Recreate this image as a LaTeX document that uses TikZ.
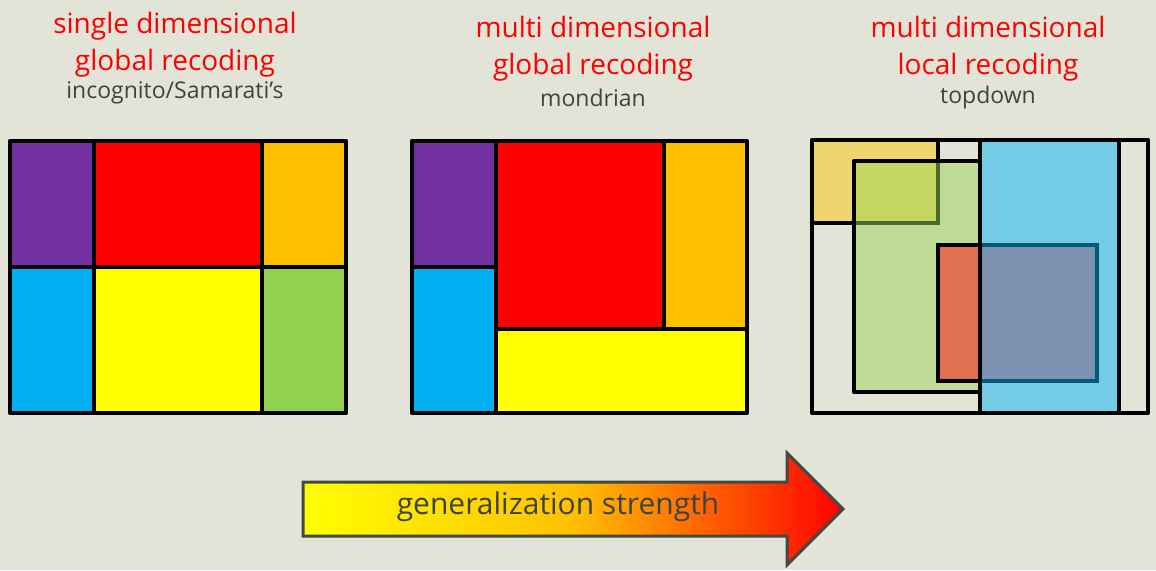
\documentclass[tikz,border=0pt]{standalone}
\usepackage{fontspec}
\setmainfont{Open Sans}
\usepackage{tikz}
\usetikzlibrary{calc,positioning}

\definecolor{bgcol}{RGB}{227,228,216}
\definecolor{purp}{RGB}{112,48,160}
\definecolor{cred}{RGB}{255,0,0}
\definecolor{cyellow}{RGB}{255,255,0}
\definecolor{cblue}{RGB}{0,176,240}
\definecolor{corange}{RGB}{255,192,0}
\definecolor{cgreen}{RGB}{146,208,80}
\definecolor{paleorange}{RGB}{240,212,110}
\definecolor{palegreen}{RGB}{190,220,150}
\definecolor{mixgreen}{RGB}{196,214,96}
\definecolor{darkgreen}{RGB}{74,106,48}
\definecolor{paleblue}{RGB}{115,203,230}
\definecolor{mixblue}{RGB}{125,145,176}
\definecolor{palered}{RGB}{224,112,80}
\definecolor{darkteal}{RGB}{0,90,120}
\definecolor{graytxt}{RGB}{60,68,67}
\definecolor{arrowline}{RGB}{63,74,69}

\tikzset{
	cell/.style={draw=black,line width=4.5pt,line join=round},
	edge/.style={line width=4.5pt,line cap=round},
	title/.style={text=cred,align=center,font=\fontsize{28}{37}\selectfont},
	subtitle/.style={text=graytxt,font=\fontsize{23}{26}\selectfont}
}

\begin{document}
\begin{tikzpicture}[x=1pt,y=-1pt]
		\fill[bgcol] (0,0) rectangle (1156,570);
		% titles
		\node[title] (t1) at (175,45) {single dimensional\\global recoding};
		\node[subtitle] (s1) at (175,93) {incognito/Samarati's};
		\node[title] (t2) at (593,49) {multi dimensional\\global recoding};
		\node[subtitle] (s2) at (593,98) {mondrian};
		\node[title] (t3) at (988,49) {multi dimensional\\local recoding};
		\node[subtitle] (s3) at (988,98) {topdown};
		% single dimensional global
		\draw[cell,fill=purp] (10,141) rectangle (94,267);
		\draw[cell,fill=cred] (94,141) rectangle (262,267);
		\draw[cell,fill=corange] (262,141) rectangle (346,267);
		\draw[cell,fill=cblue] (10,267) rectangle (94,413);
		\draw[cell,fill=cyellow] (94,267) rectangle (262,413);
		\draw[cell,fill=cgreen] (262,267) rectangle (346,413);
		% multi dimensional global
		\draw[cell,fill=purp] (412,141) rectangle (496,267);
		\draw[cell,fill=cblue] (412,267) rectangle (496,413);
		\draw[cell,fill=cred] (496,141) rectangle (664,329);
		\draw[cell,fill=corange] (664,141) rectangle (747,329);
		\draw[cell,fill=cyellow] (496,329) rectangle (747,413);
		% multi dimensional local
		\fill[paleorange] (812,140) rectangle (938,223);
		\fill[palegreen] (854,161) rectangle (980,392);
		\fill[mixgreen] (854,161) rectangle (938,223);
		\fill[paleblue] (980,140) rectangle (1119,413);
		\fill[palered] (938,245) rectangle (980,381);
		\fill[mixblue] (980,245) rectangle (1097,381);
		\draw[edge] (854,223) -- (812,223) (938,161) -- (938,140);
		\draw[edge,darkgreen] (854,223) -- (938,223) -- (938,161);
		\draw[edge] (980,245) -- (938,245) -- (938,381) -- (980,381);
		\draw[edge,darkteal] (980,245) -- (1097,245) -- (1097,381) -- (980,381);
		\draw[cell] (854,161) rectangle (980,392);
		\draw[cell] (980,140) rectangle (1119,413);
		\draw[cell] (812,140) rectangle (1148,413);
		% arrow
		\draw[draw=arrowline,line width=3pt,line join=miter,shading=axis,left color=cyellow,right color=cred,middle color={rgb,255:red,255;green,192;blue,0}]
		(303,482) -- (787,482) -- (787,453) -- (843,509) -- (787,565) -- (787,536) -- (303,536) -- cycle;
		\node[text=graytxt,font=\fontsize{30}{32}\selectfont] (gs) at (558,507) {generalization strength};
	\end{tikzpicture}
\end{document}
